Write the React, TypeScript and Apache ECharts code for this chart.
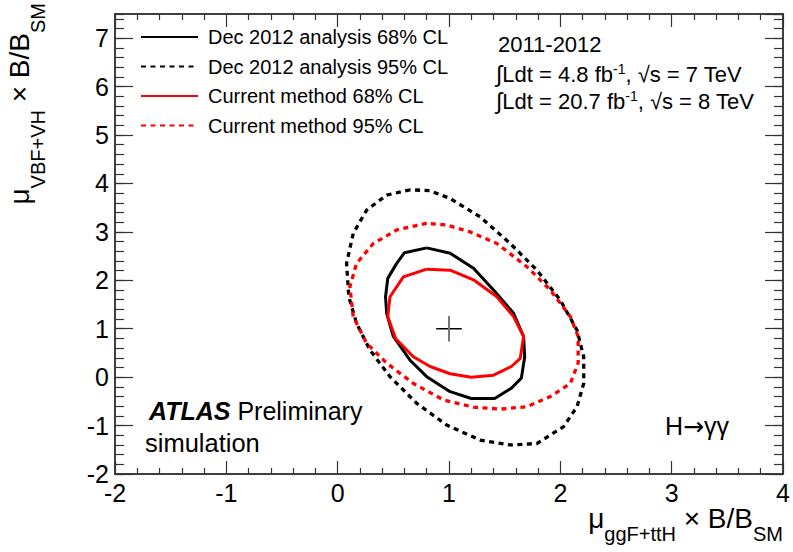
import React, { useEffect, useRef } from "react";
import * as echarts from "echarts";

const FONT = "'Liberation Sans', Arial, Helvetica, sans-serif";

// axis ranges
const X_MIN = -2;
const X_MAX = 4;
const Y_MIN = -2;
const Y_MAX = 7.5;

const legendNames = [
  "Dec 2012 analysis 68% CL",
  "Dec 2012 analysis 95% CL",
  "Current method 68% CL",
  "Current method 95% CL",
];

// contours: [mu_ggF+ttH, mu_VBF+VH]
const dec2012CL68: [number, number][] = [
  [0.80, 2.67], [0.60, 2.57], [0.53, 2.35], [0.45, 2.04], [0.43, 1.66], [0.44, 1.32],
  [0.50, 0.84], [0.65, 0.35], [0.80, 0.01], [1.01, -0.30], [1.20, -0.44], [1.41, -0.44],
  [1.56, -0.23], [1.65, -0.02], [1.68, 0.42], [1.67, 0.84], [1.58, 1.32], [1.40, 1.80],
  [1.22, 2.25], [1.01, 2.56], [0.80, 2.67],
];

const dec2012CL95: [number, number][] = [
  [0.65, 3.87], [0.44, 3.76], [0.26, 3.45], [0.14, 2.97], [0.08, 2.35], [0.10, 1.66],
  [0.17, 1.11], [0.29, 0.56], [0.47, 0.01], [0.71, -0.54], [0.98, -0.99], [1.28, -1.30],
  [1.55, -1.40], [1.79, -1.37], [2.03, -1.02], [2.15, -0.61], [2.21, -0.13], [2.21, 0.42],
  [2.15, 0.97], [2.00, 1.59], [1.79, 2.21], [1.55, 2.76], [1.28, 3.31], [1.01, 3.69],
  [0.83, 3.85], [0.65, 3.87],
];

const currentCL68: [number, number][] = [
  [0.80, 2.23], [0.59, 2.07], [0.47, 1.66], [0.45, 1.25], [0.52, 0.80], [0.68, 0.42],
  [0.83, 0.22], [1.01, 0.07], [1.20, 0.00], [1.40, 0.04], [1.56, 0.22], [1.64, 0.39],
  [1.67, 0.84], [1.58, 1.25], [1.43, 1.66], [1.22, 2.01], [1.01, 2.21], [0.80, 2.23],
];

const currentCL95: [number, number][] = [
  [0.80, 3.18], [0.53, 3.04], [0.32, 2.76], [0.17, 2.35], [0.11, 1.87], [0.14, 1.25],
  [0.26, 0.70], [0.44, 0.29], [0.68, -0.13], [0.95, -0.47], [1.22, -0.62], [1.46, -0.66],
  [1.70, -0.61], [1.91, -0.40], [2.09, -0.13], [2.16, 0.29], [2.16, 0.84], [2.09, 1.25],
  [1.91, 1.80], [1.70, 2.28], [1.43, 2.76], [1.19, 3.00], [0.98, 3.14], [0.80, 3.18],
];

// best-fit point and cross half-sizes (data units)
const bestFit: [number, number] = [1, 1];
const crossHalf: [number, number] = [0.115, 0.265];

const infoLines = ["2011-2012", "4.8", "20.7"];

export default function App() {
  const ref = useRef<HTMLDivElement>(null);

  useEffect(() => {
    if (!ref.current) return;
    const chart = echarts.init(ref.current, null, { renderer: "svg" });

    const tickColor = "#333";
    const xAxisBase = (pos: "bottom" | "top", labels: boolean) => ({
      type: "value",
      position: pos,
      min: X_MIN,
      max: X_MAX,
      interval: 1,
      axisLine: { show: true, onZero: false, lineStyle: { color: "#000", width: 1.5 } },
      axisTick: { show: true, inside: true, length: 13, lineStyle: { color: tickColor, width: 1.2 } },
      minorTick: { show: true, splitNumber: 5, length: 6, lineStyle: { color: tickColor, width: 1.2 } },
      splitLine: { show: false },
      minorSplitLine: { show: false },
      axisLabel: labels
        ? { show: true, fontSize: 25, fontFamily: FONT, color: "#000", margin: 6 }
        : { show: false },
    });
    const yAxisBase = (pos: "left" | "right", labels: boolean, minor: boolean) => ({
      type: "value",
      position: pos,
      min: Y_MIN,
      max: Y_MAX,
      interval: minor ? 0.2 : 1,
      axisLine: { show: !minor, onZero: false, lineStyle: { color: "#000", width: 1.5 } },
      axisTick: {
        show: true,
        inside: true,
        length: minor ? 9 : 18,
        lineStyle: { color: tickColor, width: 1.2 },
      },
      splitLine: { show: false },
      axisLabel: labels
        ? { show: true, fontSize: 25, fontFamily: FONT, color: "#000", margin: 6, showMaxLabel: false }
        : { show: false },
    });

    const DOT = [5, 4.5];
    const lineSeries = (name: string, data: [number, number][], color: string, dotted: boolean) => ({
      name,
      type: "line",
      data,
      symbol: "none",
      showSymbol: false,
      smooth: false,
      xAxisIndex: 0,
      yAxisIndex: 0,
      lineStyle: { color, width: dotted ? 3.3 : 3, type: dotted ? DOT : "solid" },
      itemStyle: { color },
      z: 3,
    });

    const subX = { fontSize: 20, fontFamily: FONT, height: 8, verticalAlign: "bottom", fill: "#000" };
    const subY = { fontSize: 20, fontFamily: FONT, height: 7, verticalAlign: "bottom", fill: "#000" };

    const option: any = {
      animation: false,
      backgroundColor: "#fff",
      grid: { left: 115, right: 10, top: 14, bottom: 78, containLabel: false },
      xAxis: [xAxisBase("bottom", true), xAxisBase("top", false)],
      yAxis: [
        yAxisBase("left", true, false),
        yAxisBase("left", false, true),
        yAxisBase("right", false, false),
        yAxisBase("right", false, true),
      ],
      legend: {
        data: legendNames,
        orient: "vertical",
        left: 135,
        top: 22,
        itemWidth: 57,
        itemHeight: 20,
        itemGap: 9.5,
        selectedMode: false,
        itemStyle: { color: "transparent", borderColor: "transparent", borderWidth: 0, opacity: 0 },
        textStyle: { fontSize: 20, fontFamily: FONT, color: "#000", lineHeight: 20, padding: [0, 0, 0, 5] },
      },
      series: [
        lineSeries(legendNames[1], dec2012CL95, "#000", true),
        lineSeries(legendNames[3], currentCL95, "#ff0000", true),
        lineSeries(legendNames[0], dec2012CL68, "#000", false),
        lineSeries(legendNames[2], currentCL68, "#ff0000", false),
        {
          name: "bestfit-h",
          type: "line",
          data: [
            [bestFit[0] - crossHalf[0], bestFit[1]],
            [bestFit[0] + crossHalf[0], bestFit[1]],
          ],
          symbol: "none",
          lineStyle: { color: "#000", width: 1.5 },
          z: 4,
          silent: true,
        },
        {
          name: "bestfit-v",
          type: "line",
          data: [
            [bestFit[0], bestFit[1] - crossHalf[1]],
            [bestFit[0], bestFit[1] + crossHalf[1]],
          ],
          symbol: "none",
          lineStyle: { color: "#777", width: 2 },
          z: 4,
          silent: true,
        },
      ],
      graphic: [
        {
          type: "text",
          x: 783,
          y: 518,
          style: {
            text: "{mu|μ}{sub|ggF+ttH}{main| × B/B}{sub|SM}",
            align: "right",
            textAlign: "right",
            verticalAlign: "middle",
            textVerticalAlign: "middle",
            fill: "#000",
            rich: {
              mu: { fontSize: 28, fontFamily: FONT, lineHeight: 40, fill: "#000" },
              main: { fontSize: 28, fontFamily: FONT, lineHeight: 40, fill: "#000" },
              sub: subX,
            },
          },
        },
        {
          type: "text",
          x: 19.5,
          y: 3,
          rotation: Math.PI / 2,
          style: {
            text: "{mu|μ}{sub|VBF+VH}{main| × B/B}{sub|SM}",
            align: "right",
            textAlign: "right",
            verticalAlign: "middle",
            textVerticalAlign: "middle",
            fill: "#000",
            rich: {
              mu: { fontSize: 28, fontFamily: FONT, lineHeight: 44, fill: "#000" },
              main: { fontSize: 28, fontFamily: FONT, lineHeight: 44, fill: "#000" },
              sub: subY,
            },
          },
        },
        {
          type: "text",
          x: 498,
          y: 44.4,
          style: {
            text: infoLines[0],
            fontSize: 22,
            fontFamily: FONT,
            fill: "#000",
            verticalAlign: "middle",
            textVerticalAlign: "middle",
          },
        },
        ...[
          { v: infoLines[1], e: "7", y: 74.4 },
          { v: infoLines[2], e: "8", y: 101 },
        ].map((l) => ({
          type: "text",
          x: 496,
          y: l.y,
          style: {
            text: `{int|∫}{m|Ldt = ${l.v} fb}{sup|-1}{m|, √s = ${l.e} TeV}`,
            verticalAlign: "middle",
            textVerticalAlign: "middle",
            fill: "#000",
            rich: {
              int: { fontSize: 23, fontFamily: FONT, lineHeight: 24, height: 22, fill: "#000" },
              m: { fontSize: 22, fontFamily: FONT, lineHeight: 24, fill: "#000" },
              sup: { fontSize: 14, fontFamily: FONT, lineHeight: 15, verticalAlign: "top", fill: "#000" },
            },
          },
        })),
        {
          type: "text",
          x: 149,
          y: 411.3,
          style: {
            text: "{a|ATLAS}{p| Preliminary}",
            verticalAlign: "middle",
            textVerticalAlign: "middle",
            fill: "#000",
            rich: {
              a: { fontSize: 25, fontFamily: FONT, fontWeight: "bold", fontStyle: "italic", fill: "#000" },
              p: { fontSize: 25, fontFamily: FONT, fill: "#000" },
            },
          },
        },
        {
          type: "text",
          x: 145,
          y: 443,
          style: {
            text: "simulation",
            fontSize: 25.5,
            fontFamily: FONT,
            fill: "#000",
            verticalAlign: "middle",
            textVerticalAlign: "middle",
          },
        },
        {
          type: "text",
          x: 665,
          y: 426.3,
          style: {
            text: "{h|H}{arr|→}{g|γγ}",
            verticalAlign: "middle",
            textVerticalAlign: "middle",
            fill: "#000",
            rich: {
              h: { fontSize: 25, fontFamily: FONT, fill: "#000" },
              arr: { fontSize: 25, fontFamily: "'DejaVu Sans', sans-serif", fill: "#000" },
              g: { fontSize: 25, fontFamily: FONT, fill: "#000" },
            },
          },
        },
      ],
    };

    chart.setOption(option);
    return () => chart.dispose();
  }, []);

  return (
    <div
      ref={ref}
      style={{ position: "absolute", left: 0, top: 0, width: 793, height: 552, background: "#fff" }}
    />
  );
}
